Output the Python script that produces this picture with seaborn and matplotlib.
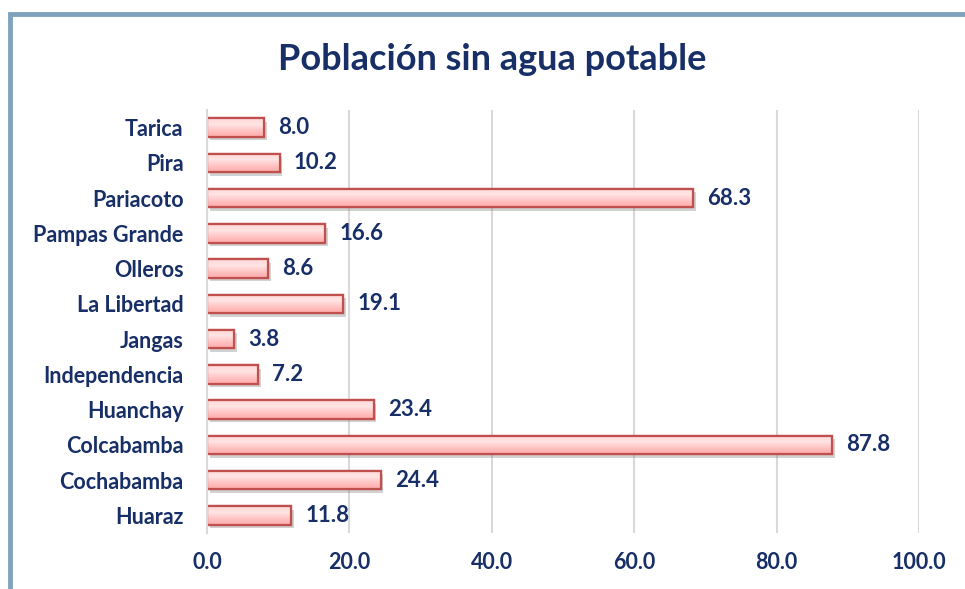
import matplotlib
matplotlib.use("Agg")
import matplotlib.pyplot as plt
import matplotlib.patheffects as pe
from matplotlib.patches import Rectangle
from matplotlib.colors import LinearSegmentedColormap
import numpy as np
import seaborn as sns
import pandas as pd

# datos
distritos = ["Tarica", "Pira", "Pariacoto", "Pampas Grande", "Olleros", "La Libertad",
             "Jangas", "Independencia", "Huanchay", "Colcabamba", "Cochabamba", "Huaraz"]
valores = [8.0, 10.2, 68.3, 16.6, 8.6, 19.1, 3.8, 7.2, 23.4, 87.8, 24.4, 11.8]
ticks_x = [0, 20, 40, 60, 80, 100]

df = pd.DataFrame({"distrito": distritos, "valor": valores})

sns.set_style("white")
plt.rcParams["font.family"] = ["Lato", "DejaVu Sans"]
navy = "#172F66"

fig = plt.figure(figsize=(9.65, 5.89), dpi=100)
ax = fig.add_axes([0.2145, 0.0951, 0.7378, 0.7181])

sns.barplot(data=df, x="valor", y="distrito", orient="h", ax=ax, width=0.52,
            color="#FFC6C6", edgecolor="#C0504D", linewidth=1.6, saturation=1)

# degradado dentro de cada barra (claro arriba, más rosado abajo)
cmap = LinearSegmentedColormap.from_list("rosa", ["#FFD6D6", "#FFE4E4", "#FFC4C4", "#FFA9A9"])
grad = np.linspace(0, 1, 64).reshape(-1, 1)
for bar in list(ax.patches):
    x0, y0 = bar.get_x(), bar.get_y()
    w, h = bar.get_width(), bar.get_height()
    bar.set_path_effects([pe.SimplePatchShadow(offset=(2, -2.5), shadow_rgbFace="#808080", alpha=0.35),
                          pe.Normal()])
    # eje y invertido: y0 es el borde superior de la barra
    im = ax.imshow(grad, cmap=cmap, aspect="auto", extent=(x0, x0 + w, y0 + h, y0),
                   origin="upper", zorder=bar.get_zorder() + 0.1, interpolation="bilinear")
    im.set_clip_path(bar)
    edge = Rectangle((x0, y0), w, h, fill=False, edgecolor="#C0504D", linewidth=1.6,
                     zorder=bar.get_zorder() + 0.2)
    ax.add_patch(edge)

# etiquetas de valor
for i, v in enumerate(valores):
    ax.text(v + 2.0, i, f"{v:.1f}", va="center", ha="left", fontsize=16,
            fontweight="bold", color=navy)

ax.set_xlim(0, 100)
ax.set_ylim(len(distritos) - 0.5, -0.5)
ax.set_xticks(ticks_x)
ax.set_xticklabels([f"{t:.1f}" for t in ticks_x])
ax.set_xlabel("")
ax.set_ylabel("")
ax.grid(axis="x", color="#D9D9D9", linewidth=1.5)
ax.set_axisbelow(True)
for s in ["top", "right", "bottom"]:
    ax.spines[s].set_visible(False)
ax.spines["left"].set_color("#D9D9D9")
ax.spines["left"].set_linewidth(1.5)
ax.tick_params(axis="both", length=0, labelsize=15.5, labelcolor=navy)
ax.tick_params(axis="y", pad=17)
ax.tick_params(axis="x", pad=14)
for lab in ax.get_xticklabels() + ax.get_yticklabels():
    lab.set_fontweight("bold")

fig.text(0.51, 0.899, "Población sin agua potable", ha="center", va="center",
         fontsize=26, fontweight="bold", color=navy)

# marco del gráfico
fig.patches.append(Rectangle((10 / 965, -0.1), 1.2, 0.1 + (589 - 13.5) / 589,
                             transform=fig.transFigure, fill=False,
                             edgecolor="#7FA3BF", linewidth=3.5))

fig.savefig("out.png", dpi=100)
